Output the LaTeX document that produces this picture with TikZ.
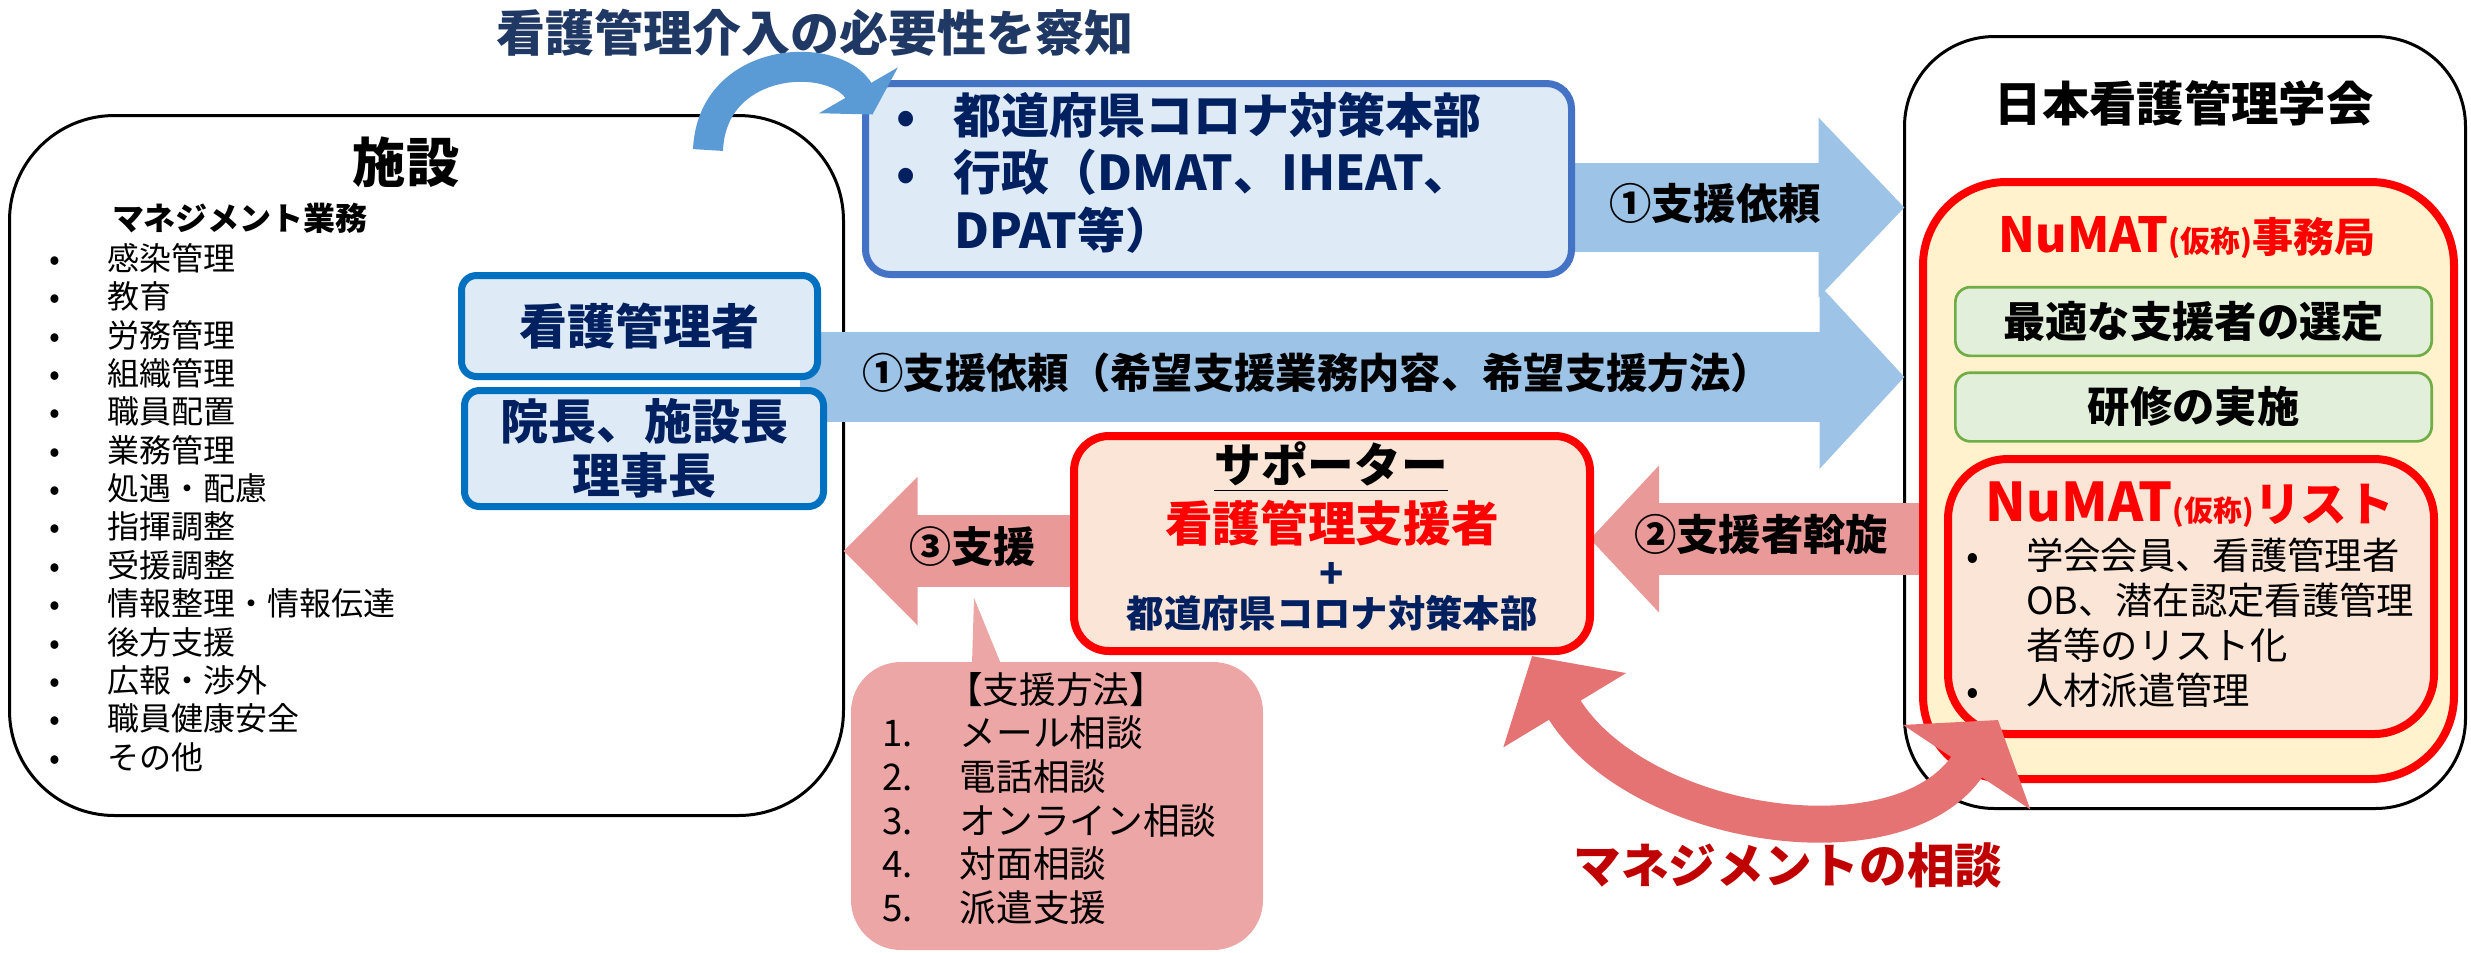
\documentclass[tikz,border=0pt]{standalone}
\usepackage{fontspec}
\setmainfont{Noto Sans CJK JP}
\usetikzlibrary{arrows.meta}
\pgfdeclarelayer{back}
\pgfsetlayers{back,main}
\definecolor{titlenavy}{HTML}{1F3864}
\definecolor{navy}{HTML}{002060}
\definecolor{edgeblue}{HTML}{0070C0}
\definecolor{edgeblue2}{HTML}{4472C4}
\definecolor{paleblue}{HTML}{DEEBF7}
\definecolor{skyblue}{HTML}{9DC3E6}
\definecolor{curveblue}{HTML}{5B9BD5}
\definecolor{rosearrow}{HTML}{EA9999}
\definecolor{rosebox}{HTML}{ECA6A6}
\definecolor{peach}{HTML}{FBE5D6}
\definecolor{cream}{HTML}{FFF2CC}
\definecolor{mint}{HTML}{E2EFDA}
\definecolor{leaf}{HTML}{70AD47}
\definecolor{coral}{HTML}{E57373}
\definecolor{darkred}{HTML}{C00000}
\newcommand{\setfs}[2]{\fontsize{#1}{#2}\selectfont}
\newcommand{\dotbox}[1]{\makebox[#1][l]{•}}
\newcommand{\numbox}[1]{\makebox[23.4pt][l]{#1}}

\begin{document}
\begin{tikzpicture}[x=0.3pt, y=-0.3pt,
  every node/.style={inner sep=0pt, outer sep=0pt},
  bigbox/.style={draw=black, line width=0.9pt},
  bluebox/.style={draw=edgeblue, line width=2.1pt, fill=paleblue, rounded corners=4.5pt, text=navy, align=center, font=\bfseries\setfs{14.4}{16.2}},
  redbox/.style={draw=red, line width=2.4pt},
  greenbox/.style={draw=leaf, line width=0.8pt, fill=mint, rounded corners=4.5pt, minimum width=142.9pt, minimum height=20.6pt, font=\bfseries\setfs{12.7}{12.7}},
  fatarrow/.style n args={3}{line width=#1, -{Triangle[width=#2, length=#3]}}]
\useasboundingbox (0,0) rectangle (2471,952);

\node[font=\bfseries\setfs{16}{16}] (shisetsutitle) at (406,162) {施設};
\node[font=\bfseries\setfs{9.6}{9.6}, anchor=west] (gyomu) at (112,218) {マネジメント業務};
\node[font=\setfs{9.6}{11.51}, align=left, anchor=west] (gyomulist) at (50,507.5) {\dotbox{17.4pt}感染管理\\\dotbox{17.4pt}教育\\\dotbox{17.4pt}労務管理\\\dotbox{17.4pt}組織管理\\\dotbox{17.4pt}職員配置\\\dotbox{17.4pt}業務管理\\\dotbox{17.4pt}処遇・配慮\\\dotbox{17.4pt}指揮調整\\\dotbox{17.4pt}受援調整\\\dotbox{17.4pt}情報整理・情報伝達\\\dotbox{17.4pt}後方支援\\\dotbox{17.4pt}広報・渉外\\\dotbox{17.4pt}職員健康安全\\\dotbox{17.4pt}その他};

\node[bluebox, minimum width=106.8pt, minimum height=30.3pt] (kanrisha) at (639.5,326) {看護管理者};
\node[bluebox, minimum width=107.7pt, minimum height=34.8pt] (incho) at (644,448.5) {院長、施設長\\理事長};
\node[bluebox, draw=edgeblue2, rounded corners=7.5pt, minimum width=211.8pt, minimum height=57.3pt] (honbu) at (1218.5,179) {};
\node[font=\bfseries\setfs{14.4}{17.25}, text=navy, align=left, anchor=west] (honbutext) at (896,172.5) {\dotbox{17.4pt}都道府県コロナ対策本部\\\dotbox{17.4pt}行政（DMAT、IHEAT、\\\hspace*{17.4pt}DPAT等）};

\node[font=\bfseries\setfs{14.2}{14.2}] (gakkaititle) at (2184,103) {日本看護管理学会};
\node[redbox, fill=cream, rounded corners=25pt, minimum width=159.3pt, minimum height=179.1pt] (jimukyoku) at (2188.5,480.5) {};
\node[text=red, font=\bfseries] (jimukyokutitle) at (2187,238) {{\setfs{14.5}{14.5}NuMAT}{\setfs{9}{9}(仮称)}{\setfs{12.3}{12.3}事務局}};
\node[greenbox] (sentei) at (2193.5,321.5) {最適な支援者の選定};
\node[greenbox] (kenshu) at (2193.5,407) {研修の実施};
\node[redbox, fill=peach, rounded corners=18pt, minimum width=145.8pt, minimum height=82.5pt] (risuto) at (2191,596.5) {};
\node[text=red, font=\bfseries] (risutotitle) at (2190,505) {{\setfs{16}{16}NuMAT}{\setfs{8.7}{8.7}(仮称)}{\setfs{14}{14}リスト}};
\node[font=\setfs{11.2}{13.5}, align=left, anchor=west] (risutolist) at (1966,622.5) {\dotbox{18pt}学会会員、看護管理者\\\hspace*{18pt}OB、潜在認定看護管理\\\hspace*{18pt}者等のリスト化\\\dotbox{18pt}人材派遣管理};

\node[redbox, fill=peach, rounded corners=10.5pt, minimum width=154.8pt, minimum height=64.5pt] (supporter) at (1332,543.5) {};
\node[font=\bfseries\setfs{14}{14}] (suptitle) at (1331,467) {\underline{サポーター}};
\node[text=red, font=\bfseries\setfs{14.3}{14.3}] (suprole) at (1332,523) {看護管理支援者};
\node[text=navy, font=\bfseries\setfs{12}{12}] (supplus) at (1332,575) {+};
\node[text=navy, font=\bfseries\setfs{11.2}{11.2}] (suphq) at (1332,613) {都道府県コロナ対策本部};

\node[fill=rosebox, rounded corners=15pt, minimum width=123.6pt, minimum height=86.4pt] (hoho) at (1057,806) {};
\fill[rosebox] (972,664) -- (974,598) -- (1001,664) -- cycle;
\node[font=\setfs{11}{11}] (hohotitle) at (1056,690) {【支援方法】};
\node[font=\setfs{11}{13.1}, align=left, anchor=west] (hoholist) at (882,820.5) {\numbox{1.}メール相談\\\numbox{2.}電話相談\\\numbox{3.}オンライン相談\\\numbox{4.}対面相談\\\numbox{5.}派遣支援};

\begin{pgfonlayer}{back}
\node[bigbox, rounded corners=31.5pt, minimum width=250.2pt, minimum height=210pt] (shisetsu) at (426.5,465.5) {};
\node[bigbox, rounded corners=27pt, minimum width=168.3pt, minimum height=231.6pt] (gakkai) at (2185,422.5) {};
\coordinate (irai1) at (1560,207.5);
\coordinate (irai2) at (800,377);
\draw[skyblue, fatarrow={26.7pt}{52.5pt}{25.8pt}] (irai1) -- (gakkai.west |- irai1);
\draw[skyblue, fatarrow={27pt}{53.7pt}{25.5pt}] (irai2) -- (gakkai.west |- irai2);
\draw[rosearrow, fatarrow={21.6pt}{43.2pt}{22.2pt}] (supporter.west |- 0,551) -- (shisetsu.east |- 0,551);
\draw[rosearrow, fatarrow={21.6pt}{42.9pt}{20.7pt}] (risuto.center |- 0,539) -- (supporter.east |- 0,539);
\end{pgfonlayer}
\node[font=\bfseries\setfs{12.7}{12.7}] (irai1label) at (1715,203) {①支援依頼};
\node[font=\bfseries\setfs{12.4}{12.4}] (irai2label) at (1317,373) {①支援依頼（希望支援業務内容、希望支援方法）};
\node[font=\bfseries\setfs{12.6}{12.6}] (shienlabel) at (972,547) {③支援};
\node[font=\bfseries\setfs{12.7}{12.7}] (assenlabel) at (1761,535) {②支援者斡旋};

\node[text=titlenavy, font=\bfseries\setfs{14.7}{14.7}] (title) at (815,33) {看護管理介入の必要性を察知};
\coordinate (sasshi) at (708,150);
\draw[curveblue, line width=9pt, -{Triangle[length=8.4pt, width=27pt]}] (sasshi) .. controls (712,55) and (835,50) .. ([shift={(7,31)}]honbu.north west);

\draw[coral, line width=11.1pt, {Triangle[length=19pt, width=42pt]}-{Triangle[length=17pt, width=45pt]}] ([shift={(-58,5)}]supporter.south east) .. controls (1636,828) and (1899,869) .. ([shift={(50,-14)}]risuto.south west);
\node[text=darkred, font=\bfseries\setfs{14.3}{14.3}] (sodan) at (1788,865) {マネジメントの相談};
\end{tikzpicture}
\end{document}
